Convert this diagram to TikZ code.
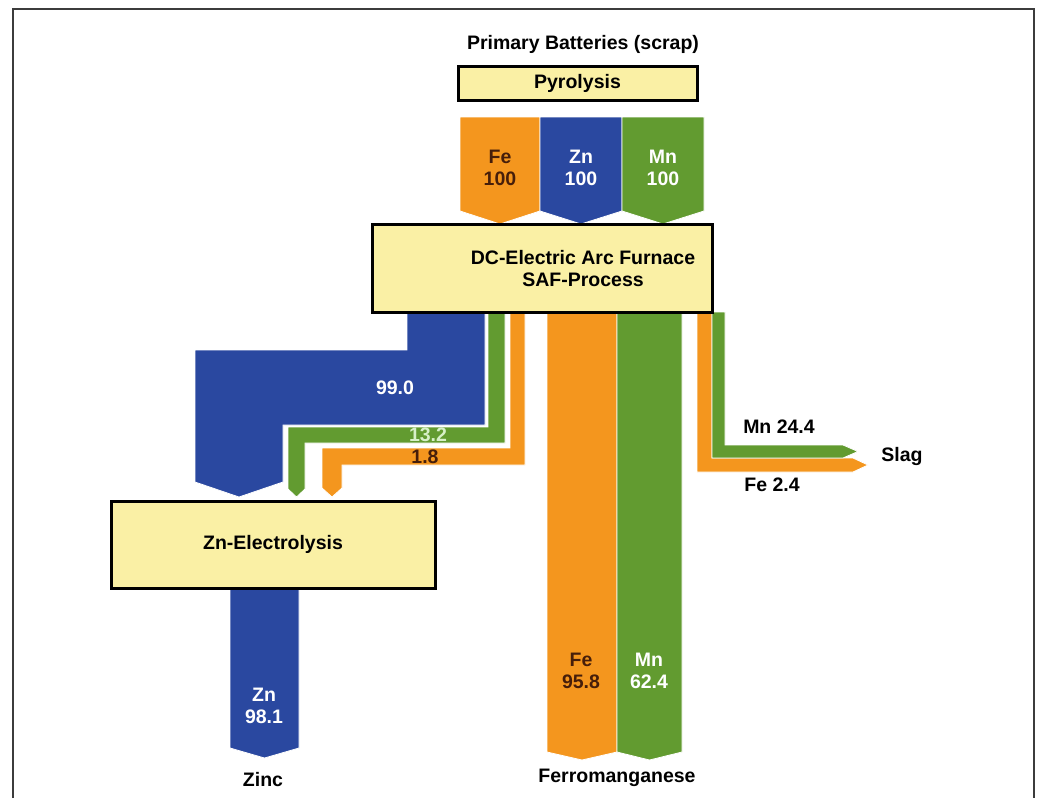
\documentclass[tikz,border=0pt]{standalone}
\usepackage{fontspec}
\setmainfont{Liberation Sans}
\definecolor{feor}{RGB}{244,150,30}
\definecolor{znbl}{RGB}{42,72,160}
\definecolor{mngr}{RGB}{98,155,48}
\definecolor{boxy}{RGB}{250,240,165}
\definecolor{febr}{RGB}{70,30,10}
\definecolor{palegr}{RGB}{215,240,200}
\definecolor{framegray}{RGB}{60,60,60}
\begin{document}
\begin{tikzpicture}[x=1pt,y=-1pt,
  every node/.style={font=\fontsize{19.5}{22}\selectfont\bfseries, inner sep=0pt, align=center},
  procbox/.style={draw=black, line width=3pt, fill=boxy},
  flow/.style={draw=white, line width=0.8pt, line join=miter},
  lblw/.style={text=white},
  lblb/.style={text=febr},
  lblk/.style={text=black}]
\useasboundingbox[fill=white] (0,0) rectangle (1040,798);
% frame
\draw[framegray, line width=2pt] (13,798) -- (13,9) -- (1034,9) -- (1034,798);

% title
\node[lblk] (title) at (583,44) {Primary Batteries (scrap)};

% input arrows
\fill[feor, flow] (460,117) -- (540,117) -- (540,211) -- (500,224) -- (460,211) -- cycle;
\fill[znbl, flow] (540,117) -- (622,117) -- (622,211) -- (581,224) -- (540,211) -- cycle;
\fill[mngr, flow] (622,117) -- (704,117) -- (704,211) -- (663,224) -- (622,211) -- cycle;
\node[lblb] (fein) at (500,168) {Fe\\100};
\node[lblw] (znin) at (581,168) {Zn\\100};
\node[lblw] (mnin) at (663,168) {Mn\\100};

% Zn flow to electrolysis
\fill[znbl, flow] (407,312) -- (485,312) -- (485,425) -- (283,425) -- (283,482) -- (239,497) -- (195,482) -- (195,350) -- (407,350) -- cycle;
% Mn to electrolysis
\fill[mngr, flow] (488,312) -- (505,312) -- (505,443) -- (305,443) -- (305,489) -- (296.5,497) -- (288,489) -- (288,427) -- (488,427) -- cycle;
% Fe to electrolysis
\fill[feor, flow] (510,312) -- (525,312) -- (525,465) -- (342,465) -- (342,488) -- (332,497) -- (322,488) -- (322,448) -- (510,448) -- cycle;
\node[lblw] (zn99) at (395,388) {99.0};
\node[text=palegr] (mn13) at (428,435) {13.2};
\node[lblb] (fe18) at (425,457) {1.8};

% Ferromanganese
\fill[feor, flow] (547,312) -- (617,312) -- (617,752) -- (582,760) -- (547,752) -- cycle;
\fill[mngr, flow] (617,312) -- (682,312) -- (682,752) -- (649.5,760) -- (617,752) -- cycle;
\node[lblb] (fefm) at (581,671) {Fe\\95.8};
\node[lblw] (mnfm) at (649,671) {Mn\\62.4};
\node[lblk] (ferro) at (617,778) {Ferromanganese};

% Slag
\fill[feor, flow] (697,312) -- (712,312) -- (712,458) -- (853,458) -- (868,465) -- (853,472) -- (697,472) -- cycle;
\fill[mngr, flow] (712,312) -- (725,312) -- (725,445) -- (843,445) -- (858,451.5) -- (843,458) -- (712,458) -- cycle;
\node[lblk] (mnslag) at (779,427) {Mn 24.4};
\node[lblk] (feslag) at (772,485) {Fe 2.4};
\node[lblk] (slag) at (902,456) {Slag};

% Zinc output
\fill[znbl, flow] (230,586) -- (299,586) -- (299,748) -- (264.5,758) -- (230,748) -- cycle;
\node[lblw] (znout) at (264,706) {Zn\\98.1};
\node[lblk] (zinc) at (263,780) {Zinc};

% process boxes
\node[procbox, minimum width=239pt, minimum height=34pt] (pyro) at (577.5,83) {Pyrolysis};
\node[procbox, minimum width=340pt, minimum height=88pt] (eaf) at (542,268) {};
\node (eaftext) at (583,269) {DC-Electric Arc Furnace\\SAF-Process};
\node[procbox, minimum width=324pt, minimum height=87pt] (elec) at (273,544.5) {Zn-Electrolysis};
\end{tikzpicture}
\end{document}
